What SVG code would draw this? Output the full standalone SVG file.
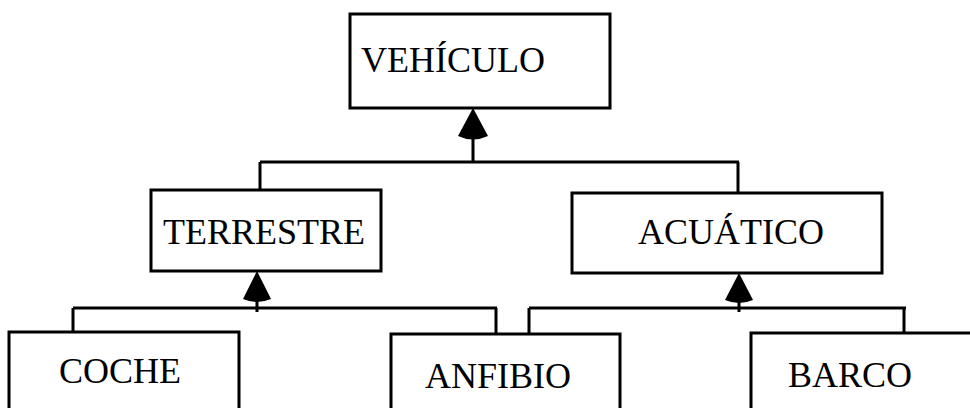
<svg xmlns="http://www.w3.org/2000/svg" width="970" height="408" viewBox="0 0 970 408">
  <style>
    .box { fill: #ffffff; stroke: #000000; stroke-width: 3; }
    .label { font-family: "Liberation Serif", "Times New Roman", serif; font-size: 36px; fill: #000000; }
    .wire { fill: none; stroke: #000000; stroke-width: 3; }
    .head { fill: #000000; stroke: none; }
  </style>

  <g id="connectors">
    <!-- VEHÍCULO <- TERRESTRE / ACUÁTICO -->
    <path class="wire" d="M473,136 V162 M260,162 H739 M260,162 V191 M738,162 V194"/>
    <path class="head" d="M473,108 L488,136 Q473,143 458,136 Z"/>
    <!-- TERRESTRE <- COCHE / ANFIBIO -->
    <path class="wire" d="M257,298 V312 M73,308 H497 M73,308 V333 M496,308 V335"/>
    <path class="head" d="M257,271 L271,299 Q257,305 243,299 Z"/>
    <!-- ACUÁTICO <- ANFIBIO / BARCO -->
    <path class="wire" d="M739,298 V312 M529,308 H906 M529,308 V335 M904,308 V334"/>
    <path class="head" d="M739,273 L753,300 Q739,306 725,300 Z"/>
  </g>

  <g id="vehiculo">
    <rect class="box" x="350" y="14" width="260" height="94"/>
    <text class="label" x="361" y="72">VEHÍCULO</text>
  </g>

  <g id="terrestre">
    <rect class="box" x="151" y="190" width="230" height="81"/>
    <text class="label" x="163" y="244">TERRESTRE</text>
  </g>

  <g id="acuatico">
    <rect class="box" x="572" y="193" width="310" height="80"/>
    <text class="label" x="638" y="244">ACUÁTICO</text>
  </g>

  <g id="coche">
    <rect class="box" x="9" y="332" width="230" height="90"/>
    <text class="label" x="59" y="383">COCHE</text>
  </g>

  <g id="anfibio">
    <rect class="box" x="391" y="334" width="229" height="90"/>
    <text class="label" x="425" y="388">ANFIBIO</text>
  </g>

  <g id="barco">
    <rect class="box" x="751" y="333" width="240" height="90"/>
    <text class="label" x="788" y="387">BARCO</text>
  </g>
</svg>
